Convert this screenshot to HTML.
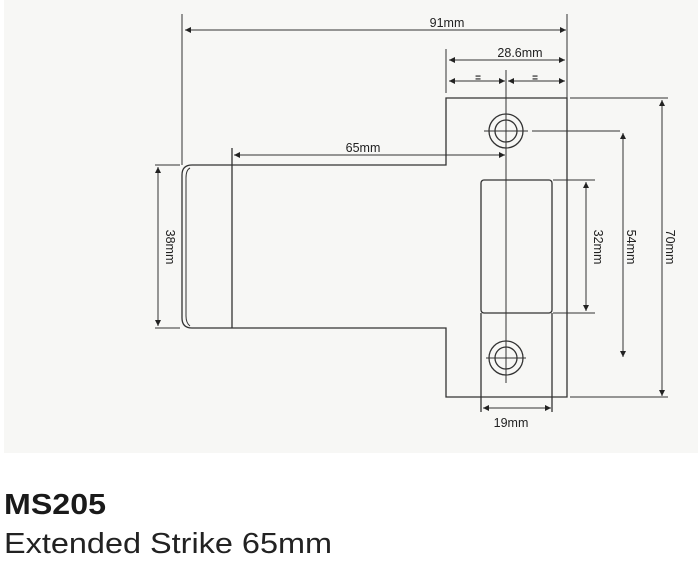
<!DOCTYPE html>
<html><head><style>
body{margin:0;background:#fff;width:698px;height:563px;overflow:hidden}
svg{display:block}
</style></head><body>
<svg width="698" height="563" viewBox="0 0 698 563" xmlns="http://www.w3.org/2000/svg" font-family="Liberation Sans, sans-serif">
<defs>
<marker id="a" viewBox="0 0 10 10" refX="10" refY="5" markerWidth="8" markerHeight="6" orient="auto-start-reverse" markerUnits="userSpaceOnUse"><path d="M0,0L10,5L0,10z" fill="#222"/></marker>
</defs>
<rect x="4" y="0" width="694" height="453" fill="#f7f7f5"/>
<g stroke="#333" stroke-width="1.3" fill="none">
<!-- body -->
<path d="M446,98 H567 V397 H446 V328 H192 Q182,328 182,318 V175 Q182,165 192,165 H446 Z"/>
<path d="M190,168 Q186,170 186,178 V316 Q186,323 190,326" stroke-width="1"/>
<line x1="232" y1="148" x2="232" y2="328"/>
<rect x="481" y="180" width="71" height="133" rx="3"/>
<line x1="481" y1="313" x2="481" y2="412"/>
<line x1="552" y1="313" x2="552" y2="412"/>
<circle cx="506" cy="131" r="17"/><circle cx="506" cy="131" r="11"/>
<circle cx="506" cy="358" r="17"/><circle cx="506" cy="358" r="11"/>
<line x1="506" y1="70" x2="506" y2="383" stroke-width="1"/>
<line x1="484" y1="131" x2="528" y2="131" stroke-width="1"/>
<line x1="532" y1="131" x2="620" y2="131" stroke-width="1"/>
<line x1="486" y1="358" x2="526" y2="358" stroke-width="1"/>
<!-- ext lines -->
<line x1="182" y1="14" x2="182" y2="165" stroke-width="1"/>
<line x1="567" y1="14" x2="567" y2="104" stroke-width="1"/>
<line x1="446" y1="49" x2="446" y2="93" stroke-width="1"/>
<line x1="570" y1="98" x2="668" y2="98" stroke-width="1"/>
<line x1="570" y1="397" x2="668" y2="397" stroke-width="1"/>
<line x1="553" y1="180" x2="595" y2="180" stroke-width="1"/>
<line x1="553" y1="313" x2="595" y2="313" stroke-width="1"/>
<line x1="155" y1="165" x2="180" y2="165" stroke-width="1"/>
<line x1="155" y1="328" x2="180" y2="328" stroke-width="1"/>
<!-- dims -->
<g stroke-width="1" marker-start="url(#a)" marker-end="url(#a)">
<line x1="185" y1="30" x2="566" y2="30"/>
<line x1="449" y1="60" x2="565" y2="60"/>
<line x1="449" y1="81" x2="505" y2="81"/>
<line x1="508" y1="81" x2="565" y2="81"/>
<line x1="234" y1="155" x2="505" y2="155"/>
<line x1="158" y1="167" x2="158" y2="326"/>
<line x1="586" y1="182" x2="586" y2="311"/>
<line x1="623" y1="133" x2="623" y2="357"/>
<line x1="662" y1="100" x2="662" y2="396"/>
<line x1="483" y1="408" x2="551" y2="408"/>
</g>
</g>
<g fill="#222" font-size="12.5" text-anchor="middle">
<text x="447" y="27">91mm</text>
<text x="520" y="57">28.6mm</text>
<text x="478" y="81" font-weight="bold" font-size="10">=</text>
<text x="535" y="81" font-weight="bold" font-size="10">=</text>
<text x="363" y="152">65mm</text>
<text x="511" y="427">19mm</text>
<text transform="translate(166,247) rotate(90)">38mm</text>
<text transform="translate(594,247) rotate(90)">32mm</text>
<text transform="translate(627,247) rotate(90)">54mm</text>
<text transform="translate(666,247) rotate(90)">70mm</text>
</g>
<text x="4" y="514" font-size="29" font-weight="bold" fill="#1a1a1a" textLength="102" lengthAdjust="spacingAndGlyphs">MS205</text>
<text x="4" y="553" font-size="29" fill="#222" textLength="328" lengthAdjust="spacingAndGlyphs">Extended Strike 65mm</text>
</svg>
</body></html>
